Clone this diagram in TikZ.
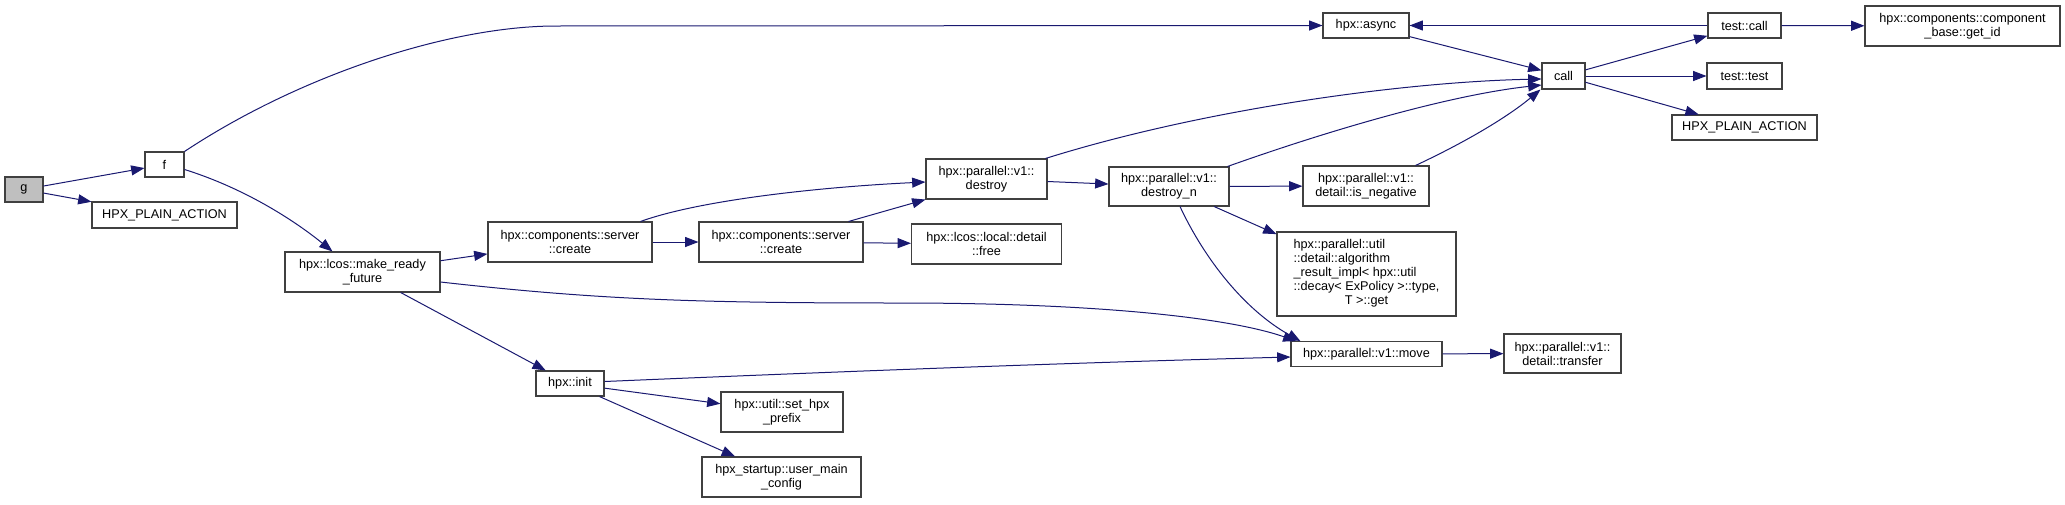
\documentclass[tikz,border=0pt]{standalone}
\usepackage{fontspec}
\setmainfont{Liberation Sans}
\usetikzlibrary{arrows.meta,calc}
\definecolor{edgeblue}{RGB}{25,25,112}
\definecolor{boxgray}{RGB}{64,64,64}
\definecolor{gfill}{RGB}{191,191,191}
\tikzset{
  box/.style={draw=boxgray, line width=0.8pt, fill=white, inner sep=0pt, align=center,
    font=\fontsize{9.5}{10.5}\selectfont},
  call/.style={draw=edgeblue, line width=0.75pt, -{Triangle[length=10pt,width=7.5pt]}},
}
\begin{document}
\begin{tikzpicture}[x=0.75pt,y=-0.75pt]
\useasboundingbox (0,0) rectangle (2065,504);
% nodes
\node[box, fill=gfill, minimum width=28.5pt, minimum height=18.75pt] (g) at (24,189.5) {g};
\node[box, minimum width=29.25pt, minimum height=18.75pt] (f) at (164.5,164.5) {f};
\node[box, minimum width=108.75pt, minimum height=19.5pt] (hpa1) at (164.5,215) {HPX\_PLAIN\_ACTION};
\node[box, minimum width=116.25pt, minimum height=30pt] (mrf) at (362.5,272) {hpx::lcos::make\_ready\\\_future};
\node[box, minimum width=123pt, minimum height=30pt] (cr1) at (570,242) {hpx::components::server\\::create};
\node[box, minimum width=123pt, minimum height=30pt] (cr2) at (781,242) {hpx::components::server\\::create};
\node[box, minimum width=112.5pt, minimum height=30pt] (free) at (986.5,244) {hpx::lcos::local::detail\\::free};
\node[box, minimum width=90.75pt, minimum height=30pt] (destroy) at (986.5,179) {hpx::parallel::v1::\\destroy};
\node[box, minimum width=90pt, minimum height=29.25pt] (destroyn) at (1169,186.5) {hpx::parallel::v1::\\destroy\_n};
\node[box, minimum width=94.5pt, minimum height=30pt] (isneg) at (1366,186) {hpx::parallel::v1::\\detail::is\_negative};
\node[box, minimum width=134.25pt, minimum height=63pt] (algo) at (1366.5,274) {\begin{tabular}{@{}l@{}}hpx::parallel::util\\::detail::algorithm\\\_result\_impl< hpx::util\\::decay< ExPolicy >::type,\\\multicolumn{1}{@{}c@{}}{T >::get}\end{tabular}};
\node[box, minimum width=113.25pt, minimum height=18.5pt] (move) at (1366.5,354) {hpx::parallel::v1::move};
\node[box, minimum width=87.75pt, minimum height=29.25pt] (transfer) at (1562.5,353.5) {hpx::parallel::v1::\\detail::transfer};
\node[box, minimum width=51pt, minimum height=18.75pt] (init) at (570,383.5) {hpx::init};
\node[box, minimum width=91.5pt, minimum height=30pt] (prefix) at (782,412) {hpx::util::set\_hpx\\\_prefix};
\node[box, minimum width=119.25pt, minimum height=30pt] (umc) at (781.5,477) {hpx\_startup::user\_main\\\_config};
\node[box, minimum width=64.5pt, minimum height=18.75pt] (async) at (1366,25.5) {hpx::async};
\node[box, minimum width=32.25pt, minimum height=19.5pt] (callN) at (1563.5,76) {call};
\node[box, minimum width=54.75pt, minimum height=18.75pt] (tcall) at (1744.5,25.5) {test::call};
\node[box, minimum width=146.25pt, minimum height=30pt] (getid) at (1962.5,26) {hpx::components::component\\\_base::get\_id};
\node[box, minimum width=56.25pt, minimum height=19.5pt] (ttest) at (1744.5,76) {test::test};
\node[box, minimum width=108.75pt, minimum height=18.75pt] (hpa2) at (1744.5,127.5) {HPX\_PLAIN\_ACTION};
% edges
\draw[call] (g) -- (f);
\draw[call] (g) -- (hpa1);
\draw[call] (f.north east) .. controls (300,75) and (450,26) .. (556,26) -- (async.west);
\draw[call] ($(f.east)+(0,5)$) .. controls (250,190) and (300,225) .. ($(mrf.north)+(-30,0)$);
\draw[call] (mrf) -- (cr1);
\draw[call] ($(mrf.east)+(0,10)$) .. controls (600,300) and (700,303) .. (900,303) .. controls (1100,303) and (1230,318) .. ($(move.north west)+(6,0)$);
\draw[call] (mrf) -- (init);
\draw[call] (cr1) -- (cr2);
\draw[call] ($(cr1.north east)+(-12,0)$) .. controls (700,200) and (820,187) .. ($(destroy.west)+(0,3)$);
\draw[call] ($(cr2.north east)+(-15,0)$) -- (destroy.south west);
\draw[call] (cr2) -- (free);
\draw[call] (destroy) -- (destroyn);
\draw[call] ($(destroy.north east)+(-2,0)$) .. controls (1200,110) and (1400,82) .. ($(callN.west)+(0,3)$);
\draw[call] ($(destroyn.north east)+(-2,0)$) .. controls (1330,130) and (1450,95) .. ($(callN.west)+(0,9)$);
\draw[call] (destroyn) -- (isneg);
\draw[call] (destroyn) -- (algo);
\draw[call] ($(destroyn.south)+(11,0)$) .. controls (1205,260) and (1245,310) .. ($(move.north west)+(10,0)$);
\draw[call] ($(isneg.north east)+(-14,0)$) .. controls (1470,140) and (1510,115) .. ($(callN.south west)+(-1,0)$);
\draw[call] (async) -- (callN);
\draw[call] (callN) -- (tcall);
\draw[call] (callN) -- (ttest);
\draw[call] (callN) -- (hpa2);
\draw[call] (tcall) -- (async);
\draw[call] (tcall) -- (getid);
\draw[call] (move) -- (transfer);
\draw[call] ($(init.east)+(0,-2)$) .. controls (900,369) and (1100,362) .. ($(move.west)+(0,3)$);
\draw[call] (init) -- (prefix);
\draw[call] (init) -- (umc);
\end{tikzpicture}
\end{document}
